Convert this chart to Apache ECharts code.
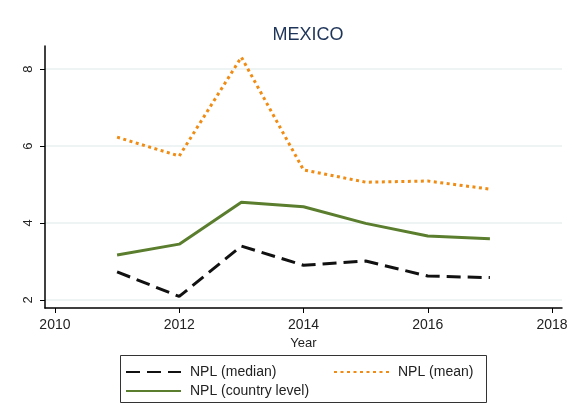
<!DOCTYPE html>
<html>
<head>
<meta charset="utf-8">
<script src="https://cdn.jsdelivr.net/npm/echarts@6/dist/echarts.min.js"></script>
<style>
  html, body { margin: 0; padding: 0; background: #fff; }
  #chart { width: 571px; height: 408px; }
</style>
</head>
<body>
<div id="chart"></div>
<script>
// data
const years = [2011, 2012, 2013, 2014, 2015, 2016, 2017];
const nplMedian = [2.73, 2.09, 3.40, 2.90, 3.01, 2.62, 2.58];
const nplMean = [6.23, 5.74, 8.31, 5.38, 5.06, 5.09, 4.88];
const nplCountry = [3.17, 3.45, 4.54, 4.42, 3.99, 3.66, 3.59];
const xTicks = [2010, 2012, 2014, 2016, 2018];
const yTicks = [2, 4, 6, 8];

const pairs = (vals) => years.map((y, i) => [y, vals[i]]);
const font = 'Liberation Sans, Arial, sans-serif';

// one legend per entry so the two columns line up like the original
function legendAt(name, left, top) {
  return {
    left: left,
    top: top,
    padding: 0,
    itemWidth: 55,
    itemHeight: 12,
    itemStyle: { opacity: 0, borderWidth: 0 },
    textStyle: { fontFamily: font, fontSize: 14, color: '#222', padding: [0, 0, 0, 4] },
    data: [name]
  };
}

const chart = echarts.init(document.getElementById('chart'));

chart.setOption({
  backgroundColor: '#fff',
  animation: false,
  title: {
    text: 'MEXICO',
    left: 303,
    textAlign: 'center',
    top: 21,
    textStyle: { fontFamily: font, fontSize: 18, fontWeight: 'normal', color: '#1e3559' }
  },
  grid: { left: 45, right: 9, top: 46, bottom: 100 },
  xAxis: {
    type: 'value',
    min: 2009.84,
    max: 2018.16,
    name: 'Year',
    nameLocation: 'middle',
    nameGap: 26,
    nameTextStyle: { fontFamily: font, fontSize: 13, color: '#222' },
    axisLine: { show: true, lineStyle: { color: '#000', width: 1.5 } },
    axisTick: { show: true, customValues: xTicks, length: 5, lineStyle: { color: '#000' } },
    axisLabel: {
      customValues: xTicks, fontFamily: font, fontSize: 14, color: '#222', margin: 10,
      formatter: (v) => String(v)
    },
    splitLine: { show: false }
  },
  yAxis: {
    type: 'value',
    min: 1.79,
    max: 8.6,
    axisLine: { show: true, lineStyle: { color: '#000', width: 1.5 } },
    axisTick: { show: true, customValues: yTicks, length: 5, lineStyle: { color: '#000' } },
    axisLabel: { customValues: yTicks, rotate: 90, fontFamily: font, fontSize: 13, color: '#222', margin: 10 },
    splitLine: { show: true, customValues: yTicks, lineStyle: { color: '#e8f0f1', width: 1.5 } }
  },
  legend: [
    legendAt('NPL (median)', 125, 365),
    legendAt('NPL (mean)', 333, 365),
    legendAt('NPL (country level)', 125, 384)
  ],
  graphic: [{
    type: 'rect',
    shape: { x: 120.5, y: 355.5, width: 366, height: 47 },
    style: { fill: 'none', stroke: '#333', lineWidth: 1 }
  }],
  series: [
    {
      name: 'NPL (median)',
      type: 'line',
      data: pairs(nplMedian),
      symbol: 'none',
      color: '#111',
      lineStyle: { color: '#111', width: 3, type: [14, 7] }
    },
    {
      name: 'NPL (mean)',
      type: 'line',
      data: pairs(nplMean),
      symbol: 'none',
      color: '#f08c14',
      lineStyle: { color: '#f08c14', width: 3, type: [3, 3.5] }
    },
    {
      name: 'NPL (country level)',
      type: 'line',
      data: pairs(nplCountry),
      symbol: 'none',
      color: '#5a7e2e',
      lineStyle: { color: '#5a7e2e', width: 3 }
    }
  ]
});
</script>
</body>
</html>
